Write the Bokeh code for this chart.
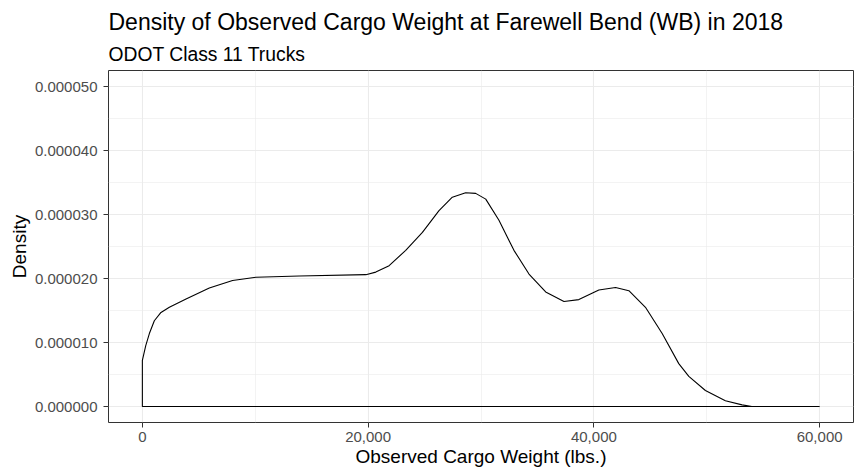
from bokeh.plotting import figure
from bokeh.models import Range1d, FixedTicker, NumeralTickFormatter, PrintfTickFormatter, Title
from bokeh.embed import file_html
from bokeh.resources import INLINE

# Density curve (x in lbs, y density)
weight = [0, 0, 300, 620, 1060, 1650, 2390, 3870, 5930, 7990, 10060, 13890,
          19800, 20680, 21860, 23330, 24810, 26280, 27460, 28640, 29530,
          30420, 31590, 32920, 34250, 35730, 37350, 38670, 40440, 41920,
          43100, 44570, 46050, 47520, 48410, 49880, 51650, 53130, 54000, 60000]
density = [0, 7.2e-6, 9.5e-6, 1.14e-5, 1.34e-5, 1.47e-5, 1.55e-5, 1.68e-5,
           1.85e-5, 1.97e-5, 2.02e-5, 2.04e-5, 2.06e-5, 2.10e-5, 2.20e-5,
           2.44e-5, 2.72e-5, 3.06e-5, 3.27e-5, 3.34e-5, 3.33e-5, 3.24e-5,
           2.91e-5, 2.44e-5, 2.07e-5, 1.79e-5, 1.64e-5, 1.67e-5, 1.82e-5,
           1.86e-5, 1.81e-5, 1.55e-5, 1.14e-5, 6.7e-6, 4.7e-6, 2.5e-6, 9e-7,
           2.5e-7, 0, 0]

x_ticks = [0, 20000, 40000, 60000]
x_minor = [10000, 30000, 50000]
y_ticks = [0, 1e-5, 2e-5, 3e-5, 4e-5, 5e-5]
y_minor = [5e-6, 1.5e-5, 2.5e-5, 3.5e-5, 4.5e-5]

title_text = "Density of Observed Cargo Weight at Farewell Bend (WB) in 2018"
subtitle_text = "ODOT Class 11 Trucks"
x_label = "Observed Cargo Weight (lbs.)"
y_label = "Density"

FONT = "Liberation Sans"
W, H = 857, 472
ML, MR, MT, MB = 108, 4, 70, 50

p = figure(width=W, height=H, x_range=Range1d(-3000, 63000),
           y_range=Range1d(-2.5e-6, 5.25e-5), output_backend="svg",
           toolbar_location=None, title=None, min_border_left=ML, min_border_right=MR,
           min_border_top=MT, min_border_bottom=MB,
           background_fill_color="white", border_fill_color="white")

p.patch(weight, density, fill_color=None, line_color="black", line_width=1.1)

p.xaxis.ticker = FixedTicker(ticks=x_ticks, minor_ticks=x_minor)
p.yaxis.ticker = FixedTicker(ticks=y_ticks, minor_ticks=y_minor)
p.xaxis.formatter = NumeralTickFormatter(format="0,0")
p.yaxis.formatter = PrintfTickFormatter(format="%.6f")

for ax in (p.xaxis, p.yaxis):
    ax.axis_line_color = None
    ax.major_tick_line_color = "#333333"
    ax.major_tick_line_width = 1
    ax.major_tick_out = 5
    ax.major_tick_in = 0
    ax.minor_tick_line_color = None
    ax.major_label_text_font = FONT
    ax.major_label_text_font_size = "15px"
    ax.major_label_text_color = "#4D4D4D"
    ax.axis_label_text_font = FONT
    ax.axis_label_text_font_size = "19px"
    ax.axis_label_text_font_style = "normal"
    ax.axis_label_text_color = "black"
p.yaxis.major_label_standoff = 6
p.xaxis.major_label_standoff = 4
p.xaxis.axis_label = x_label
p.yaxis.axis_label = y_label
p.xaxis.axis_label_standoff = 1
p.yaxis.axis_label_standoff = 2

for g in (p.xgrid, p.ygrid):
    g.grid_line_color = "#EBEBEB"
    g.grid_line_width = 1.1
    g.minor_grid_line_color = "#EBEBEB"
    g.minor_grid_line_width = 0.6

p.outline_line_color = "#333333"
p.outline_line_width = 1

p.add_layout(Title(text=subtitle_text, text_font=FONT, text_font_size="19.3px",
                   text_font_style="normal", text_color="black", align="left",
                   standoff=12), "above")
p.add_layout(Title(text=title_text, text_font=FONT, text_font_size="23px",
                   text_font_style="normal", text_color="black", align="left",
                   standoff=2), "above")

open("out.html", "w").write(file_html(p, INLINE))
